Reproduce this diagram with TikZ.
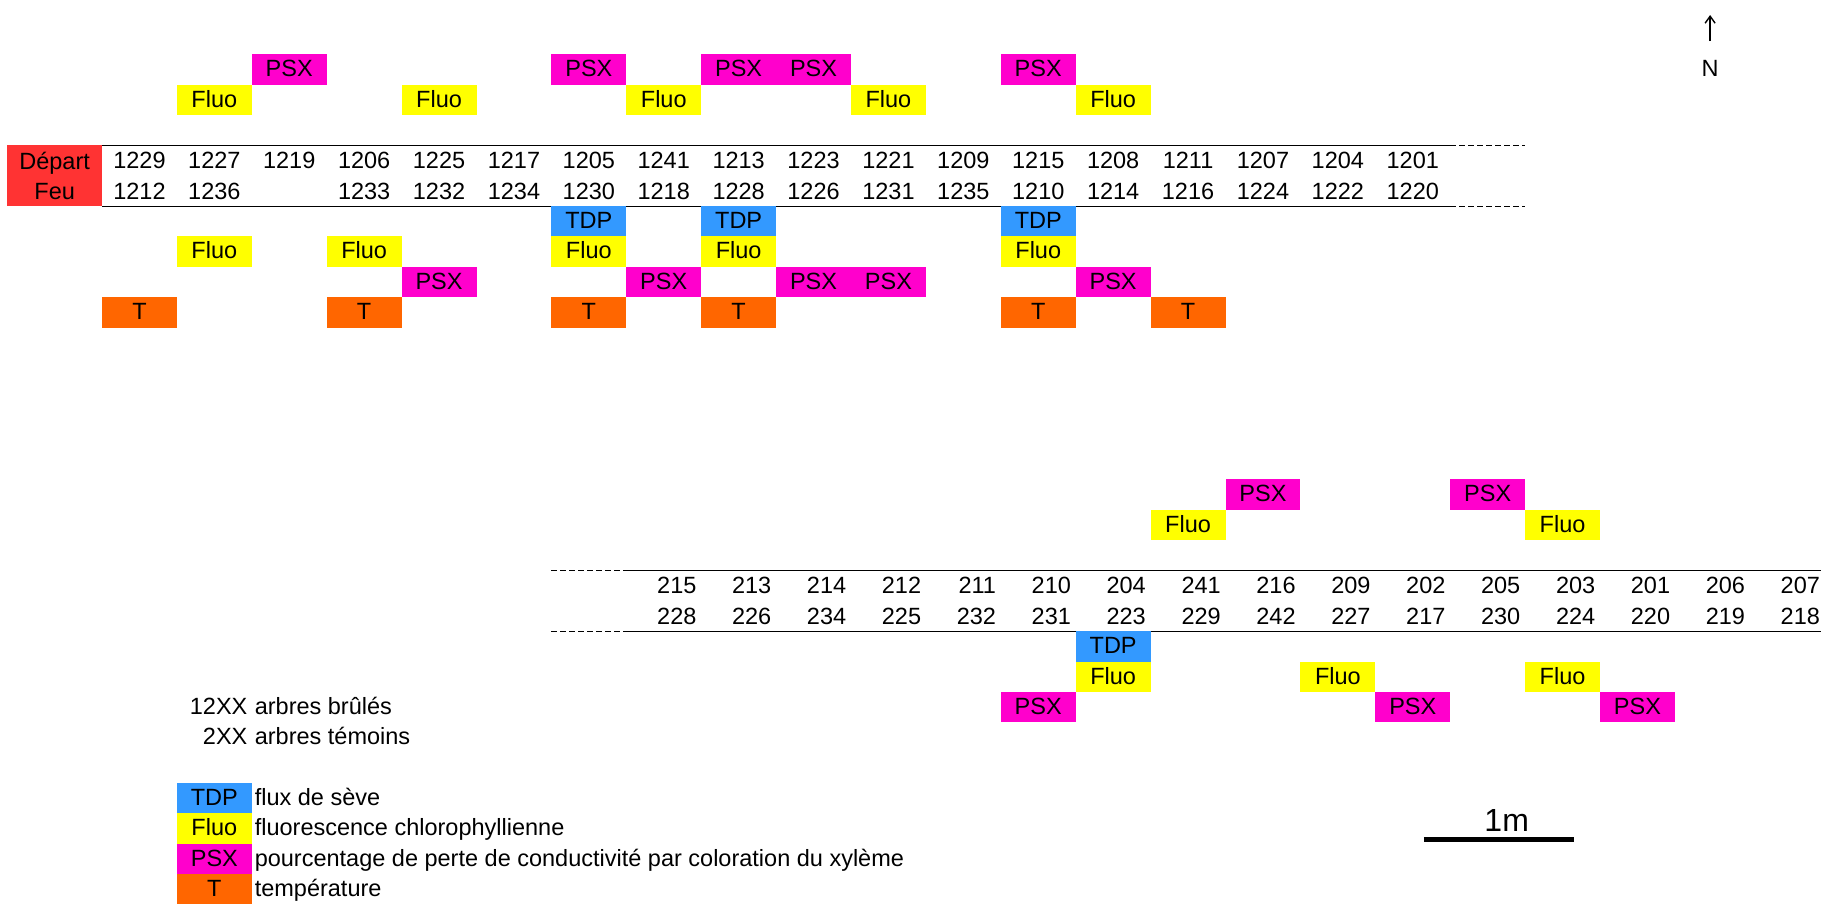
\documentclass[tikz,border=0pt]{standalone}
\usepackage{fontspec}
\setmainfont{Liberation Sans}
\usetikzlibrary{arrows.meta,positioning}

\definecolor{psxcol}{HTML}{FF00CC}
\definecolor{fluocol}{HTML}{FFFF00}
\definecolor{tdpcol}{HTML}{3399FF}
\definecolor{tempcol}{HTML}{FF6600}
\definecolor{feucol}{HTML}{FF3333}

\tikzset{
    cell/.style={minimum width=37.45pt, minimum height=15.18pt, inner sep=0pt, outer sep=0pt, text height=8.4pt, text depth=1.1pt},
    psx/.style={cell, fill=psxcol},
    fluo/.style={cell, fill=fluocol},
    tdp/.style={cell, fill=tdpcol},
    tempbox/.style={cell, fill=tempcol},
    pair/.style={align=center, inner sep=0pt},
    pairr/.style={align=right, anchor=east, inner sep=0pt, inner xsep=2.2pt},
    legtext/.style={inner sep=0pt, inner xsep=1.3pt, text height=8.4pt, text depth=1.1pt},
    border/.style={line width=0.55pt},
    openend/.style={border, dash pattern=on 3pt off 1.5pt},
    northarrow/.style={-{Straight Barb[length=3.5pt, width=5pt]}, line width=0.7pt},
    scalebar/.style={line width=2.5pt}
}

\begin{document}
\begin{tikzpicture}[x=37.45pt, y=-15.18pt, font=\fontsize{11.75}{15.18}\selectfont]
            \useasboundingbox (-0.8618,-2.2892) rectangle (23.4506,27.5198);

            % Arbres brules
            \node[cell, fill=feucol, minimum width=47.34pt, minimum height=30.36pt, align=center, text height=, text depth=] (depart) at (-0.132,3.5) {Départ\\Feu};
            \node[pair] (c1a) at (1,3.5) {1229\\1212};
            \node[pair] (c2a) at (2,3.5) {1227\\1236};
            \node[pair] (c3a) at (3,3) {1219};
            \node[pair] (c4a) at (4,3.5) {1206\\1233};
            \node[pair] (c5a) at (5,3.5) {1225\\1232};
            \node[pair] (c6a) at (6,3.5) {1217\\1234};
            \node[pair] (c7a) at (7,3.5) {1205\\1230};
            \node[pair] (c8a) at (8,3.5) {1241\\1218};
            \node[pair] (c9a) at (9,3.5) {1213\\1228};
            \node[pair] (c10a) at (10,3.5) {1223\\1226};
            \node[pair] (c11a) at (11,3.5) {1221\\1231};
            \node[pair] (c12a) at (12,3.5) {1209\\1235};
            \node[pair] (c13a) at (13,3.5) {1215\\1210};
            \node[pair] (c14a) at (14,3.5) {1208\\1214};
            \node[pair] (c15a) at (15,3.5) {1211\\1216};
            \node[pair] (c16a) at (16,3.5) {1207\\1224};
            \node[pair] (c17a) at (17,3.5) {1204\\1222};
            \node[pair] (c18a) at (18,3.5) {1201\\1220};

            \draw[border] (depart.north east) -- (18.5,2.5);
            \draw[openend] (18.5,2.5) -- (19.5,2.5);
            \draw[border] (depart.south east) -- (18.5,4.5);
            \draw[openend] (18.5,4.5) -- (19.5,4.5);

            \node[psx] (psxN3a) at (3,0) {PSX};
            \node[psx] (psxN7a) at (7,0) {PSX};
            \node[psx] (psxN9a) at (9,0) {PSX};
            \node[psx] (psxN10a) at (10,0) {PSX};
            \node[psx] (psxN13a) at (13,0) {PSX};
            \node[fluo] (fluoN2a) at (2,1) {Fluo};
            \node[fluo] (fluoN5a) at (5,1) {Fluo};
            \node[fluo] (fluoN8a) at (8,1) {Fluo};
            \node[fluo] (fluoN11a) at (11,1) {Fluo};
            \node[fluo] (fluoN14a) at (14,1) {Fluo};

            \node[tdp] (tdpS7a) at (7,5) {TDP};
            \node[tdp] (tdpS9a) at (9,5) {TDP};
            \node[tdp] (tdpS13a) at (13,5) {TDP};
            \node[fluo] (fluoS2a) at (2,6) {Fluo};
            \node[fluo] (fluoS4a) at (4,6) {Fluo};
            \node[fluo] (fluoS7a) at (7,6) {Fluo};
            \node[fluo] (fluoS9a) at (9,6) {Fluo};
            \node[fluo] (fluoS13a) at (13,6) {Fluo};
            \node[psx] (psxS5a) at (5,7) {PSX};
            \node[psx] (psxS8a) at (8,7) {PSX};
            \node[psx] (psxS10a) at (10,7) {PSX};
            \node[psx] (psxS11a) at (11,7) {PSX};
            \node[psx] (psxS14a) at (14,7) {PSX};
            \node[tempbox] (tS1a) at (1,8) {T};
            \node[tempbox] (tS4a) at (4,8) {T};
            \node[tempbox] (tS7a) at (7,8) {T};
            \node[tempbox] (tS9a) at (9,8) {T};
            \node[tempbox] (tS13a) at (13,8) {T};
            \node[tempbox] (tS15a) at (15,8) {T};

            % Arbres temoins
            \node[pairr] (c8b) at (8.5,17.5) {215\\228};
            \node[pairr] (c9b) at (9.5,17.5) {213\\226};
            \node[pairr] (c10b) at (10.5,17.5) {214\\234};
            \node[pairr] (c11b) at (11.5,17.5) {212\\225};
            \node[pairr] (c12b) at (12.5,17.5) {211\\232};
            \node[pairr] (c13b) at (13.5,17.5) {210\\231};
            \node[pairr] (c14b) at (14.5,17.5) {204\\223};
            \node[pairr] (c15b) at (15.5,17.5) {241\\229};
            \node[pairr] (c16b) at (16.5,17.5) {216\\242};
            \node[pairr] (c17b) at (17.5,17.5) {209\\227};
            \node[pairr] (c18b) at (18.5,17.5) {202\\217};
            \node[pairr] (c19b) at (19.5,17.5) {205\\230};
            \node[pairr] (c20b) at (20.5,17.5) {203\\224};
            \node[pairr] (c21b) at (21.5,17.5) {201\\220};
            \node[pairr] (c22b) at (22.5,17.5) {206\\219};
            \node[pairr] (c23b) at (23.5,17.5) {207\\218};

            \draw[openend] (6.5,16.5) -- (7.5,16.5);
            \draw[border] (7.5,16.5) -- (23.4506,16.5);
            \draw[openend] (6.5,18.5) -- (7.5,18.5);
            \draw[border] (7.5,18.5) -- (23.4506,18.5);

            \node[psx] (psxN16b) at (16,14) {PSX};
            \node[psx] (psxN19b) at (19,14) {PSX};
            \node[fluo] (fluoN15b) at (15,15) {Fluo};
            \node[fluo] (fluoN20b) at (20,15) {Fluo};

            \node[tdp] (tdpS14b) at (14,19) {TDP};
            \node[fluo] (fluoS14b) at (14,20) {Fluo};
            \node[fluo] (fluoS17b) at (17,20) {Fluo};
            \node[fluo] (fluoS20b) at (20,20) {Fluo};
            \node[psx] (psxS13b) at (13,21) {PSX};
            \node[psx] (psxS18b) at (18,21) {PSX};
            \node[psx] (psxS21b) at (21,21) {PSX};

            % Legende
            \node[legtext, anchor=east, inner xsep=2pt] (leg12) at (2.5,21) {12XX};
            \node[legtext, right=0pt of leg12] (txt12) {arbres brûlés};
            \node[legtext, anchor=east, inner xsep=2pt] (leg2) at (2.5,22) {2XX};
            \node[legtext, right=0pt of leg2] (txt2) {arbres témoins};
            \node[tdp] (legtdp) at (2,24) {TDP};
            \node[legtext, right=0pt of legtdp] (txttdp) {flux de sève};
            \node[fluo] (legfluo) at (2,25) {Fluo};
            \node[legtext, right=0pt of legfluo] (txtfluo) {fluorescence chlorophyllienne};
            \node[psx] (legpsx) at (2,26) {PSX};
            \node[legtext, right=0pt of legpsx] (txtpsx) {pourcentage de perte de conductivité par coloration du xylème};
            \node[tempbox] (legt) at (2,27) {T};
            \node[legtext, right=0pt of legt] (txtt) {température};

            % Nord et echelle
            \node[legtext] (nord) at (21.97,0) {N};
            \coordinate (nordtip) at (21.97,-1.795);
            \draw[northarrow, shorten <=9.2pt] (nord.north) -- (nordtip);
            \coordinate (barw) at (18.15,25.35);
            \coordinate (bare) at (20.15,25.35);
            \draw[scalebar] (barw) -- (bare);
            \node[inner sep=0pt, anchor=base, font=\fontsize{16}{19}\selectfont] (unmetre) at (19.254,25.115) {1m};
        \end{tikzpicture}
\end{document}
